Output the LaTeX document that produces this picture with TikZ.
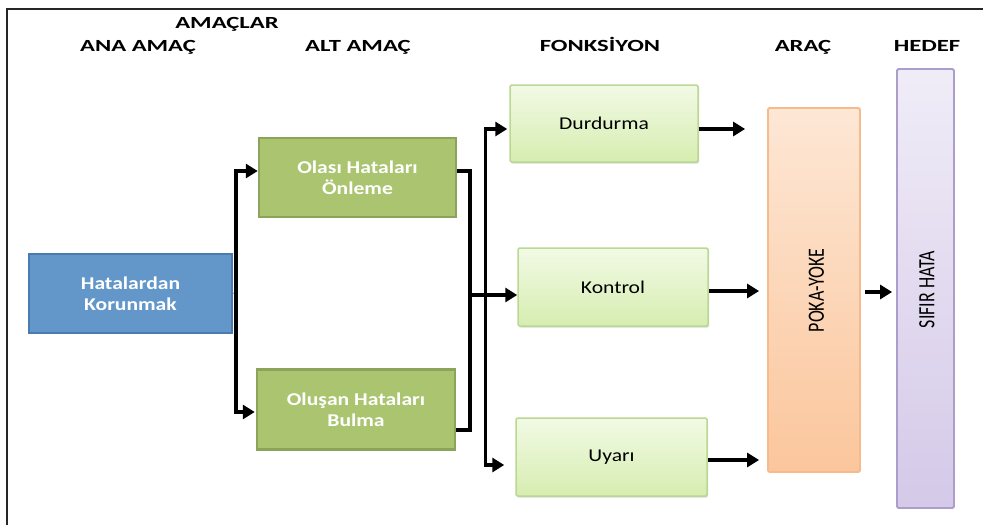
\documentclass[tikz,border=0pt]{standalone}
\usepackage{fontspec}
\usetikzlibrary{arrows.meta,shadows,calc}
\newfontfamily\hdrfont[FakeStretch=1.45]{Carlito}
\newfontfamily\boxfont[FakeStretch=1.2]{Carlito}
\newfontfamily\rotfont[FakeStretch=0.77]{Carlito}
\definecolor{bluefill}{HTML}{6497C9}
\definecolor{blueline}{HTML}{4A7BAF}
\definecolor{greenfill}{HTML}{ABC470}
\definecolor{greenline}{HTML}{8BA45A}
\definecolor{lgtop}{HTML}{F2FAE5}
\definecolor{lgbot}{HTML}{D6EDB0}
\definecolor{lgline}{HTML}{BAD891}
\definecolor{ortop}{HTML}{FDE7D5}
\definecolor{orbot}{HTML}{FBC69C}
\definecolor{orline}{HTML}{F6BA8C}
\definecolor{putop}{HTML}{F0ECF7}
\definecolor{pubot}{HTML}{D4C9E8}
\definecolor{puline}{HTML}{AC9DCA}
\begin{document}
\begin{tikzpicture}[x=1pt,y=-1pt,
  hdr/.style={font=\hdrfont\bfseries\fontsize{17}{20}\selectfont, anchor=base, inner sep=0pt},
  bx/.style={rectangle, inner sep=0pt, align=center},
  darkbox/.style={bx, font=\boxfont\bfseries\fontsize{18}{20.5}\selectfont, text=white, line width=2.5pt},
  bluebox/.style={darkbox, fill=bluefill, draw=blueline},
  greenbox/.style={darkbox, fill=greenfill, draw=greenline},
  lightbox/.style={bx, font=\boxfont\fontsize{18}{20.5}\selectfont, text=black, draw=lgline, line width=1.5pt,
     top color=lgtop, bottom color=lgbot, rounded corners=1.5pt,
     drop shadow={shadow xshift=1.2pt, shadow yshift=-1.5pt, opacity=0.25, fill=black!60}},
  tallbox/.style={bx, line width=1.8pt, rounded corners=1.5pt},
  rottext/.style={font=\rotfont\fontsize{23.3}{26}\selectfont, rotate=90, inner sep=0pt},
  conn/.style={line width=3.3pt, black},
  arr/.style={conn, -{Triangle[length=12pt,width=14pt]}},
  frameline/.style={line width=1.8pt, black!85}
]
\useasboundingbox (0,0) rectangle (983,525);
\draw[frameline] (7,525) -- (7,9) -- (983,9);

% headers
\node[hdr] (hAmac) at (227,28) {AMAÇLAR};
\node[hdr] (hAna) at (138,51) {ANA AMAÇ};
\node[hdr] (hAlt) at (358,51) {ALT AMAÇ};
\node[hdr] (hFon) at (600,51) {FONKSİYON};
\node[hdr] (hArac) at (803,51) {ARAÇ};
\node[hdr] (hHedef) at (927,51) {HEDEF};

% boxes
\node[bluebox, minimum width=203pt, minimum height=79pt] (hk) at (130.5,293.5) {Hatalardan\\Korunmak};
\node[greenbox, minimum width=197pt, minimum height=79pt] (g1) at (357.5,177.5) {Olası Hataları\\Önleme};
\node[greenbox, minimum width=198pt, minimum height=80pt] (g2) at (356,409.5) {Oluşan Hataları\\Bulma};
\node[lightbox, minimum width=188pt, minimum height=77pt] (dur) at (604,123.5) {Durdurma};
\node[lightbox, minimum width=190pt, minimum height=78pt] (kon) at (613,287) {Kontrol};
\node[lightbox, minimum width=191pt, minimum height=78pt] (uya) at (611.5,457) {Uyarı};
\node[tallbox, draw=orline, top color=ortop, bottom color=orbot, minimum width=92pt, minimum height=364pt] (poka) at (814,290) {};
\node[tallbox, draw=puline, top color=putop, bottom color=pubot, minimum width=57pt, minimum height=439pt] (sif) at (925.5,288.5) {};
\node[rottext] (pokat) at (816.5,290.5) {POKA-YOKE};
\node[rottext] (sift) at (927,289.5) {SIFIR HATA};

% left connectors
\coordinate (jL) at (236,293);
\draw[line width=1pt, black!40] (hk.east) -- (jL);
\draw[arr] (jL) |- ([yshift=6.5pt]g1.west);
\draw[arr] (jL) |- ([yshift=-2.5pt,xshift=-1pt]g2.west);

% middle connectors
\coordinate (jM) at (470,295);
\coordinate (jN) at (485.5,295);
\draw[conn] ([yshift=6.5pt]g1.east) -| (jM);
\draw[conn] ([yshift=-20.5pt]g2.east) -| (jM);
\draw[arr] (jM) -- ([yshift=-8pt]kon.west);
\draw[arr] (jN) |- ([yshift=-5.5pt,xshift=-2pt]dur.west);
\draw[arr] (jN) |- ([yshift=-8pt,xshift=-11pt]uya.west);

% right connectors
\path ([yshift=-5.5pt]dur.east) coordinate (d1);
\path ([yshift=-4pt]kon.east) coordinate (k1);
\path ([yshift=-3pt]uya.east) coordinate (u1);
\path ([yshift=-2pt]poka.east) coordinate (p1);
\draw[arr, shorten >=22pt] (d1) -- (d1 -| poka.west);
\draw[arr, shorten >=8pt] (k1) -- (k1 -| poka.west);
\draw[arr, shorten >=8pt] (u1) -- (u1 -| poka.west);
\draw[arr, shorten <=4pt, shorten >=4pt] (p1) -- (p1 -| sif.west);
\end{tikzpicture}
\end{document}
